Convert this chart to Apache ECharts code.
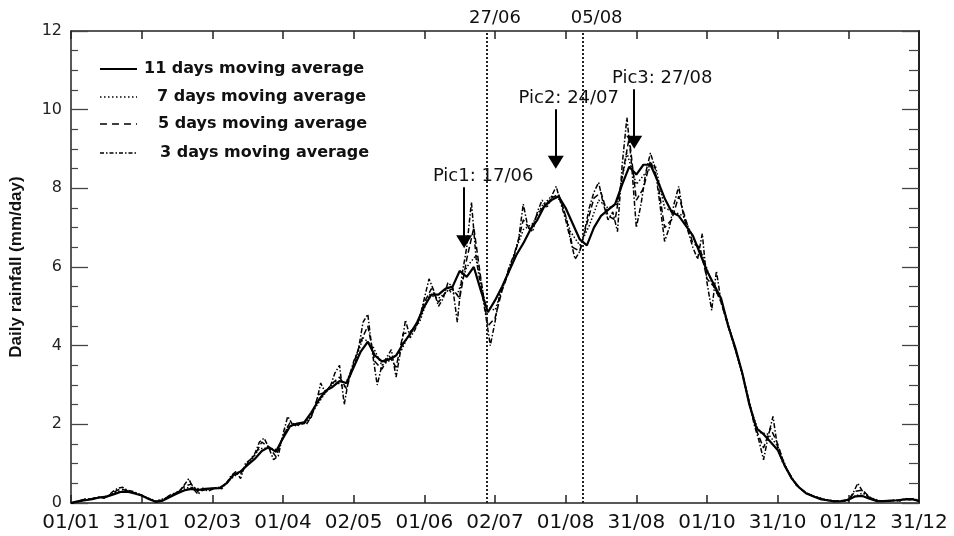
<!DOCTYPE html>
<html>
<head>
<meta charset="utf-8">
<script src="https://cdn.jsdelivr.net/npm/echarts@6/dist/echarts.min.js"></script>
<style>
  html, body { margin: 0; padding: 0; background: #fff; }
  #chart { width: 954px; height: 536px; }
</style>
</head>
<body>
<div id="chart"></div>
<script>
// Tick labels of the day axis (one every 30 days)
const dateTicks = ['01/01', '31/01', '02/03', '01/04', '02/05', '01/06', '02/07',
                   '01/08', '31/08', '01/10', '31/10', '01/12', '31/12'];

// Daily rainfall (mm/day), moving averages sampled along the year
const STEP11 = 3, STEP7 = 4, STEP5 = 3, STEP3 = 2;   // days between samples

const avg11 = [
  0.0, 0.04, 0.07, 0.1, 0.14, 0.16, 0.22, 0.28, 0.29, 0.24,
  0.19, 0.1, 0.03, 0.06, 0.15, 0.24, 0.32, 0.36, 0.33, 0.36,
  0.37, 0.38, 0.5, 0.72, 0.8, 0.97, 1.12, 1.32, 1.42, 1.3,
  1.65, 1.95, 2.02, 2.05, 2.3, 2.6, 2.85, 2.95, 3.1, 3.05,
  3.45, 3.85, 4.1, 3.75, 3.6, 3.65, 3.75, 4.05, 4.3, 4.6,
  5.0, 5.3, 5.3, 5.45, 5.5, 5.9, 5.75, 6.0, 5.4, 4.85,
  5.15, 5.5, 5.9, 6.3, 6.6, 6.95, 7.2, 7.55, 7.7, 7.8,
  7.5, 7.1, 6.7, 6.55, 7.0, 7.3, 7.45, 7.6, 8.1, 8.55,
  8.35, 8.6, 8.6, 8.2, 7.75, 7.4, 7.3, 7.05, 6.8, 6.35,
  5.9, 5.55, 5.2, 4.5, 3.95, 3.3, 2.5, 1.9, 1.75, 1.55,
  1.35, 0.95, 0.62, 0.4, 0.25, 0.17, 0.1, 0.07, 0.04, 0.05,
  0.08, 0.17, 0.18, 0.11, 0.05, 0.05, 0.06, 0.07, 0.09, 0.1,
  0.05
];

const avg7 = [
  0.0, 0.06, 0.1, 0.14, 0.18, 0.3, 0.3, 0.24, 0.14, 0.05,
  0.12, 0.23, 0.38, 0.4, 0.33, 0.37, 0.41, 0.62, 0.8, 1.05,
  1.38, 1.4, 1.35, 1.95, 2.0, 2.08, 2.45, 2.8, 3.1, 2.95,
  3.5, 4.2, 4.0, 3.5, 3.65, 3.85, 4.35, 4.6, 5.3, 5.2,
  5.4, 5.3, 6.0, 6.3, 5.0, 4.9, 5.6, 6.3, 6.95, 7.1,
  7.55, 7.8, 7.7, 6.9, 6.55, 7.05, 7.7, 7.5, 7.6, 8.9,
  8.1, 8.4, 8.6, 7.5, 7.4, 7.3, 6.75, 6.3, 5.6, 5.15,
  4.35, 3.5, 2.5, 1.8, 1.75, 1.45, 0.85, 0.45, 0.25, 0.16,
  0.09, 0.05, 0.05, 0.15, 0.25, 0.12, 0.05, 0.06, 0.07, 0.1,
  0.05
];

const avg5 = [
  0.0, 0.06, 0.09, 0.11, 0.14, 0.15, 0.27, 0.36, 0.31, 0.26,
  0.19, 0.11, 0.04, 0.08, 0.18, 0.27, 0.42, 0.48, 0.28, 0.34,
  0.37, 0.38, 0.48, 0.72, 0.74, 1.02, 1.22, 1.55, 1.42, 1.18,
  1.7, 2.05, 1.98, 2.02, 2.18, 2.75, 2.82, 3.05, 3.2, 2.9,
  3.55, 4.1, 4.5, 3.6, 3.4, 3.75, 3.45, 4.3, 4.35, 4.55,
  5.1, 5.45, 5.1, 5.35, 5.45, 5.2, 6.2, 7.0, 5.7, 4.5,
  4.7, 5.4, 5.9, 6.45, 7.2, 6.95, 7.35, 7.55, 7.75, 7.85,
  7.3, 6.5, 6.4, 7.1, 7.75, 7.9, 7.3, 7.2, 8.3, 9.3,
  7.7, 8.0, 8.7, 8.2, 7.0, 7.2, 7.8, 7.2, 6.6, 6.5,
  5.7, 5.5, 5.1, 4.5, 3.9, 3.3, 2.55, 1.85, 1.4, 1.9,
  1.5, 0.95, 0.62, 0.4, 0.26, 0.18, 0.12, 0.07, 0.05, 0.05,
  0.08, 0.3, 0.33, 0.15, 0.06, 0.05, 0.06, 0.06, 0.1, 0.1,
  0.05
];

const avg3 = [
  0.0, 0.02, 0.05, 0.1, 0.08, 0.13, 0.15, 0.12, 0.2, 0.3,
  0.38, 0.4, 0.32, 0.3, 0.25, 0.2, 0.14, 0.08, 0.03, 0.05,
  0.12, 0.2, 0.25, 0.3, 0.45, 0.62, 0.35, 0.22, 0.38, 0.3,
  0.35, 0.4, 0.36, 0.5, 0.7, 0.8, 0.62, 1.0, 1.1, 1.25,
  1.55, 1.65, 1.4, 1.1, 1.2, 1.75, 2.2, 2.0, 1.95, 2.05,
  2.0, 2.2, 2.5, 3.05, 2.8, 2.95, 3.3, 3.5, 2.5, 3.2,
  3.6, 3.9, 4.6, 4.8, 3.8, 3.0, 3.5, 3.7, 3.9, 3.2,
  3.9, 4.65, 4.2, 4.4, 4.7, 5.2, 5.7, 5.4, 5.0, 5.2,
  5.6, 5.5, 4.6, 5.8, 6.5, 7.65, 6.2, 5.5, 4.8, 4.0,
  4.6, 5.3, 5.6, 6.0, 6.3, 6.7, 7.6, 7.0, 6.9, 7.4,
  7.7, 7.5, 7.8, 8.05, 7.6, 7.2, 6.7, 6.2, 6.4, 6.9,
  7.5, 7.9, 8.15, 7.6, 7.2, 7.4, 6.9, 8.6, 9.8, 8.6,
  7.0, 7.6, 8.4, 8.9, 8.5, 7.6, 6.65, 7.0, 7.6, 8.05,
  7.3, 6.9, 6.5, 6.2, 6.85, 5.6, 4.9, 5.9, 5.1, 4.7,
  4.3, 3.9, 3.5, 3.05, 2.55, 2.0, 1.6, 1.1, 1.7, 2.2,
  1.4, 1.05, 0.85, 0.65, 0.45, 0.35, 0.25, 0.2, 0.15, 0.12,
  0.08, 0.06, 0.05, 0.04, 0.05, 0.06, 0.25, 0.5, 0.3, 0.18,
  0.1, 0.05, 0.06, 0.05, 0.06, 0.08, 0.05, 0.12, 0.08, 0.12,
  0.04
];

// Dates marked by vertical dotted lines (day of year)
const markerDays = [176.6, 217.2];
const markerNames = ['27/06', '05/08'];

// Rainfall peaks pointed at by arrows
const peakNames = ['Pic1: 17/06', 'Pic2: 24/07', 'Pic3: 27/08'];
const peakDays = [166.9, 205.8, 239.1];
const peakFrom = [8.03, 10.01, 10.52];  // arrow tail (mm/day)
const peakTo = [6.64, 8.66, 9.17];      // arrow head (mm/day)

const seriesNames = ['11 days moving average', '7 days moving average',
                     '5 days moving average', '3 days moving average'];

const toPoints = (arr, step) => arr.map((v, i) => [i * step, v]);

const INK = '#000';
const TEXT = '#111';
const dashes = {
  solid: 'solid',
  dotted: [1.5, 2],
  dashed: [6, 3],
  dashDot: [5, 2, 1.5, 2]
};

const markerLabelShift = [16, 28];
const peakLabelShift = [38, 26, 56];

const markLineData = [];
markerDays.forEach((d, i) => {
  markLineData.push({
    xAxis: d,
    symbol: 'none',
    lineStyle: { color: '#222', width: 2, type: [2, 2] },
    label: {
      show: true, position: 'end', formatter: markerNames[i], distance: 4,
      padding: [0, 0, 0, markerLabelShift[i]],
      fontFamily: 'DejaVu Sans', fontSize: 18, color: TEXT
    }
  });
});
peakDays.forEach((d, i) => {
  markLineData.push([
    {
      coord: [d, peakFrom[i]], symbol: 'none',
      lineStyle: { color: INK, width: 2, type: 'solid' },
      label: {
        show: true, position: 'start', formatter: peakNames[i], distance: 2,
        padding: [0, 0, 0, peakLabelShift[i]],
        fontFamily: 'DejaVu Sans', fontSize: 18, color: TEXT
      }
    },
    { coord: [d, peakTo[i]], symbol: 'triangle', symbolSize: [16, 13] }
  ]);
});

const lineSeries = (name, data, type, width, z) => ({
  name, type: 'line', data, showSymbol: false, symbol: 'none',
  smooth: false, clip: false, z,
  lineStyle: { color: INK, width, type },
  emphasis: { disabled: true }
});

const axisLineStyle = { color: '#222', width: 1.5 };

const legendRows = [69, 97, 124, 153];
const legendTextX = [144, 157, 158, 160];
const legendStyles = [
  { lineDash: null, lineWidth: 2 },
  { lineDash: [1.5, 2.5], lineWidth: 1.3 },
  { lineDash: [7, 5], lineWidth: 1.3 },
  { lineDash: [4, 2, 1.5, 2], lineWidth: 1.3 }
];
const legendGraphics = [];
seriesNames.forEach((n, i) => {
  legendGraphics.push({
    type: 'line', silent: true,
    shape: { x1: 100, y1: legendRows[i], x2: 137, y2: legendRows[i] },
    style: { stroke: INK, lineWidth: legendStyles[i].lineWidth, lineDash: legendStyles[i].lineDash }
  });
  legendGraphics.push({
    type: 'text', silent: true, x: legendTextX[i], y: legendRows[i],
    style: {
      text: n, fill: TEXT, fontFamily: 'DejaVu Sans', fontWeight: 'bold',
      fontSize: 16, verticalAlign: 'middle', align: 'left'
    }
  });
});

const chart = echarts.init(document.getElementById('chart'), null, { renderer: 'canvas' });
chart.setOption({
  animation: false,
  backgroundColor: '#fff',
  grid: { left: 66, right: 35, top: 31, bottom: 33 },
  xAxis: [
    {
      type: 'value', min: 0, max: 360, interval: 30, position: 'bottom',
      axisLine: { show: true, onZero: false, lineStyle: axisLineStyle },
      axisTick: { show: true, inside: true, length: 8, lineStyle: axisLineStyle },
      axisLabel: {
        formatter: v => dateTicks[Math.round(v / 30)] || '',
        fontFamily: 'DejaVu Sans', fontSize: 20, color: TEXT, margin: 10
      },
      splitLine: { show: false }
    },
    {
      type: 'value', min: 0, max: 360, interval: 30, position: 'top',
      axisLine: { show: true, onZero: false, lineStyle: axisLineStyle },
      axisTick: { show: true, inside: true, length: 8, lineStyle: axisLineStyle },
      axisLabel: { show: false },
      splitLine: { show: false }
    }
  ],
  yAxis: [
    {
      type: 'value', min: 0, max: 12, interval: 2, position: 'left',
      name: 'Daily rainfall (mm/day)', nameLocation: 'middle', nameGap: 46,
      nameTextStyle: { fontFamily: 'Liberation Sans', fontWeight: 'bold', fontSize: 17, color: TEXT },
      axisLine: { show: true, onZero: false, lineStyle: axisLineStyle },
      axisTick: { show: true, inside: true, length: 17, lineStyle: { color: '#444', width: 1.3 } },
      minorTick: { show: true, splitNumber: 4, length: 7, lineStyle: { color: '#444', width: 1.2 } },
      axisLabel: { fontFamily: 'DejaVu Sans', fontSize: 16, color: '#222', margin: 9 },
      splitLine: { show: false },
      minorSplitLine: { show: false }
    },
    {
      type: 'value', min: 0, max: 12, interval: 2, position: 'right',
      axisLine: { show: true, onZero: false, lineStyle: { color: '#222', width: 2 } },
      axisTick: { show: true, inside: true, length: 17, lineStyle: { color: '#444', width: 1.3 } },
      minorTick: { show: true, splitNumber: 4, length: 10, lineStyle: { color: '#444', width: 1.2 } },
      axisLabel: { show: false },
      splitLine: { show: false },
      minorSplitLine: { show: false }
    }
  ],
  series: [
    lineSeries(seriesNames[3], toPoints(avg3, STEP3), dashes.dashDot, 1.5, 2),
    lineSeries(seriesNames[2], toPoints(avg5, STEP5), dashes.dashed, 1.5, 3),
    lineSeries(seriesNames[1], toPoints(avg7, STEP7), dashes.dotted, 1.5, 4),
    Object.assign(lineSeries(seriesNames[0], toPoints(avg11, STEP11), dashes.solid, 2.2, 5), {
      markLine: { silent: true, animation: false, symbol: 'none', data: markLineData }
    })
  ],
  graphic: legendGraphics
});
</script>
</body>
</html>
